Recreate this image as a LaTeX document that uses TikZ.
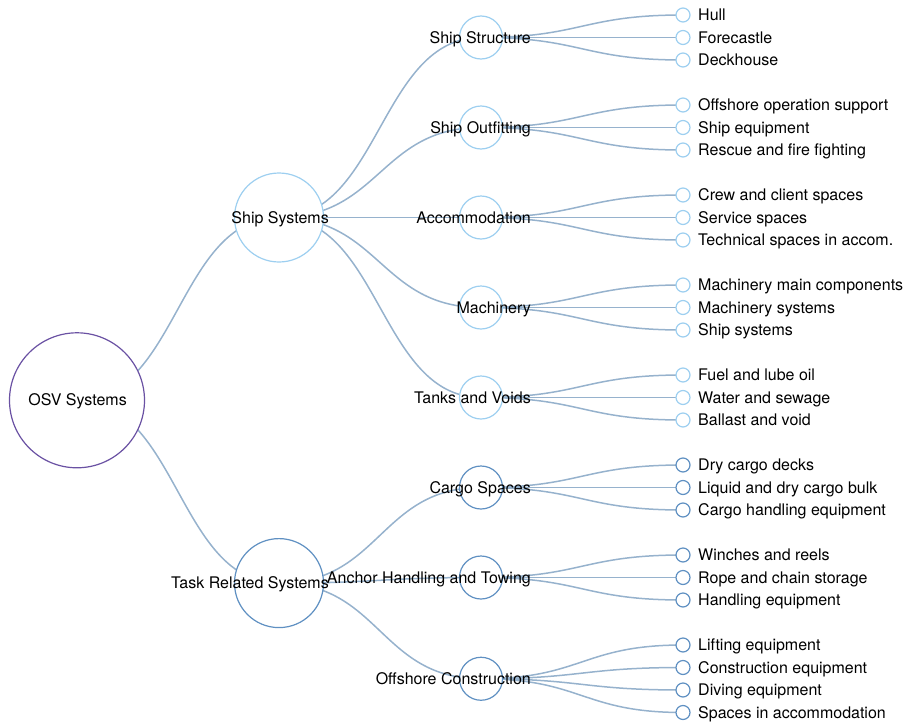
\documentclass[tikz,border=0pt]{standalone}
\usepackage{fontspec}
\setmainfont{TeX Gyre Heros}
\usepackage{xcolor}
\usepackage{tikz}
\usetikzlibrary{calc, positioning, backgrounds}
\definecolor{rootcol}{HTML}{6A51A3}
\definecolor{lightcol}{HTML}{9DCFF0}
\definecolor{darkcol}{HTML}{5F90C2}
\definecolor{linkcol}{HTML}{96B2CD}

\begin{document}
\begin{tikzpicture}[x=1pt, y=-1pt, font=\fontsize{16}{19}\selectfont]
    \tikzset{
        hub/.style={circle, draw, fill=white, line width=1.2pt, inner sep=0pt},
        rootnode/.style={hub, draw=rootcol, minimum size=135pt},
        lvone/.style={hub, minimum size=89pt},
        lvtwo/.style={hub, minimum size=43pt},
        leaf/.style={hub, minimum size=14pt},
        ship/.style={draw=lightcol},
        task/.style={draw=darkcol},
        nodetext/.style={inner sep=0pt, anchor=base east},
        leaftext/.style={inner sep=0pt, anchor=base west},
        link/.style={
            draw=linkcol, line width=1.5pt,
            to path={.. controls ($(\tikztostart)!0.5!(\tikztostart -| \tikztotarget)$)
                and ($(\tikztotarget)!0.5!(\tikztotarget -| \tikztostart)$) .. (\tikztotarget)}
        }
    }

    \useasboundingbox (0,0) rectangle (905,723);

    \node[rootnode] (osv) at (77,400.3) {};
    \node[nodetext] (osv-t) at ([xshift=50pt, yshift=-5.6pt]osv.center) {OSV Systems};

    \node[lvone, ship] (shipsys) at (279,217.5) {};
    \node[nodetext] (shipsys-t) at ([xshift=50pt, yshift=-5.6pt]shipsys.center) {Ship Systems};
    \node[lvone, task] (tasksys) at (279,583.1) {};
    \node[nodetext] (tasksys-t) at ([xshift=50pt, yshift=-5.6pt]tasksys.center) {Task Related Systems};

    \node[lvtwo, ship] (struct) at (481,37.5) {};
    \node[lvtwo, ship] (outfit) at (481,127.5) {};
    \node[lvtwo, ship] (accom) at (481,217.5) {};
    \node[lvtwo, ship] (mach) at (481,307.5) {};
    \node[lvtwo, ship] (tanks) at (481,397.5) {};
    \node[lvtwo, task] (cargo) at (481,487.5) {};
    \node[lvtwo, task] (anchor) at (481,577.5) {};
    \node[lvtwo, task] (offcon) at (481,678.75) {};

    \node[nodetext] (struct-t) at ([xshift=50pt, yshift=-5.6pt]struct.center) {Ship Structure};
    \node[nodetext] (outfit-t) at ([xshift=50pt, yshift=-5.6pt]outfit.center) {Ship Outfitting};
    \node[nodetext] (accom-t) at ([xshift=50pt, yshift=-5.6pt]accom.center) {Accommodation};
    \node[nodetext] (mach-t) at ([xshift=50pt, yshift=-5.6pt]mach.center) {Machinery};
    \node[nodetext] (tanks-t) at ([xshift=50pt, yshift=-5.6pt]tanks.center) {Tanks and Voids};
    \node[nodetext] (cargo-t) at ([xshift=50pt, yshift=-5.6pt]cargo.center) {Cargo Spaces};
    \node[nodetext] (anchor-t) at ([xshift=50pt, yshift=-5.6pt]anchor.center) {Anchor Handling and Towing};
    \node[nodetext] (offcon-t) at ([xshift=50pt, yshift=-5.6pt]offcon.center) {Offshore Construction};

    \node[leaf, ship] (hull) at (683,15) {};
    \node[leaf, ship] (forecastle) at (683,37.5) {};
    \node[leaf, ship] (deckhouse) at (683,60) {};
    \node[leaf, ship] (offsup) at (683,105) {};
    \node[leaf, ship] (shipeq) at (683,127.5) {};
    \node[leaf, ship] (rescue) at (683,150) {};
    \node[leaf, ship] (crew) at (683,195) {};
    \node[leaf, ship] (service) at (683,217.5) {};
    \node[leaf, ship] (techsp) at (683,240) {};
    \node[leaf, ship] (machmain) at (683,285) {};
    \node[leaf, ship] (machsys) at (683,307.5) {};
    \node[leaf, ship] (shipsyst) at (683,330) {};
    \node[leaf, ship] (fuel) at (683,375) {};
    \node[leaf, ship] (water) at (683,397.5) {};
    \node[leaf, ship] (ballast) at (683,420) {};
    \node[leaf, task] (drycargo) at (683,465) {};
    \node[leaf, task] (liqcargo) at (683,487.5) {};
    \node[leaf, task] (cargohand) at (683,510) {};
    \node[leaf, task] (winches) at (683,555) {};
    \node[leaf, task] (rope) at (683,577.5) {};
    \node[leaf, task] (handeq) at (683,600) {};
    \node[leaf, task] (lifting) at (683,645) {};
    \node[leaf, task] (construct) at (683,667.5) {};
    \node[leaf, task] (diving) at (683,690) {};
    \node[leaf, task] (spaces) at (683,712.5) {};

    \node[leaftext] (hull-t) at ([xshift=15pt, yshift=-5.6pt]hull.center) {Hull};
    \node[leaftext] (forecastle-t) at ([xshift=15pt, yshift=-5.6pt]forecastle.center) {Forecastle};
    \node[leaftext] (deckhouse-t) at ([xshift=15pt, yshift=-5.6pt]deckhouse.center) {Deckhouse};
    \node[leaftext] (offsup-t) at ([xshift=15pt, yshift=-5.6pt]offsup.center) {Offshore operation support};
    \node[leaftext] (shipeq-t) at ([xshift=15pt, yshift=-5.6pt]shipeq.center) {Ship equipment};
    \node[leaftext] (rescue-t) at ([xshift=15pt, yshift=-5.6pt]rescue.center) {Rescue and fire fighting};
    \node[leaftext] (crew-t) at ([xshift=15pt, yshift=-5.6pt]crew.center) {Crew and client spaces};
    \node[leaftext] (service-t) at ([xshift=15pt, yshift=-5.6pt]service.center) {Service spaces};
    \node[leaftext] (techsp-t) at ([xshift=15pt, yshift=-5.6pt]techsp.center) {Technical spaces in accom.};
    \node[leaftext] (machmain-t) at ([xshift=15pt, yshift=-5.6pt]machmain.center) {Machinery main components};
    \node[leaftext] (machsys-t) at ([xshift=15pt, yshift=-5.6pt]machsys.center) {Machinery systems};
    \node[leaftext] (shipsyst-t) at ([xshift=15pt, yshift=-5.6pt]shipsyst.center) {Ship systems};
    \node[leaftext] (fuel-t) at ([xshift=15pt, yshift=-5.6pt]fuel.center) {Fuel and lube oil};
    \node[leaftext] (water-t) at ([xshift=15pt, yshift=-5.6pt]water.center) {Water and sewage};
    \node[leaftext] (ballast-t) at ([xshift=15pt, yshift=-5.6pt]ballast.center) {Ballast and void};
    \node[leaftext] (drycargo-t) at ([xshift=15pt, yshift=-5.6pt]drycargo.center) {Dry cargo decks};
    \node[leaftext] (liqcargo-t) at ([xshift=15pt, yshift=-5.6pt]liqcargo.center) {Liquid and dry cargo bulk};
    \node[leaftext] (cargohand-t) at ([xshift=15pt, yshift=-5.6pt]cargohand.center) {Cargo handling equipment};
    \node[leaftext] (winches-t) at ([xshift=15pt, yshift=-5.6pt]winches.center) {Winches and reels};
    \node[leaftext] (rope-t) at ([xshift=15pt, yshift=-5.6pt]rope.center) {Rope and chain storage};
    \node[leaftext] (handeq-t) at ([xshift=15pt, yshift=-5.6pt]handeq.center) {Handling equipment};
    \node[leaftext] (lifting-t) at ([xshift=15pt, yshift=-5.6pt]lifting.center) {Lifting equipment};
    \node[leaftext] (construct-t) at ([xshift=15pt, yshift=-5.6pt]construct.center) {Construction equipment};
    \node[leaftext] (diving-t) at ([xshift=15pt, yshift=-5.6pt]diving.center) {Diving equipment};
    \node[leaftext] (spaces-t) at ([xshift=15pt, yshift=-5.6pt]spaces.center) {Spaces in accommodation};

    \begin{scope}[on background layer]
        \draw[link] (osv.center) to (shipsys.center);
        \draw[link] (osv.center) to (tasksys.center);

        \draw[link] (shipsys.center) to (struct.center);
        \draw[link] (shipsys.center) to (outfit.center);
        \draw[link] (shipsys.center) to (accom.center);
        \draw[link] (shipsys.center) to (mach.center);
        \draw[link] (shipsys.center) to (tanks.center);
        \draw[link] (tasksys.center) to (cargo.center);
        \draw[link] (tasksys.center) to (anchor.center);
        \draw[link] (tasksys.center) to (offcon.center);

        \draw[link] (struct.center) to (hull.center);
        \draw[link] (struct.center) to (forecastle.center);
        \draw[link] (struct.center) to (deckhouse.center);
        \draw[link] (outfit.center) to (offsup.center);
        \draw[link] (outfit.center) to (shipeq.center);
        \draw[link] (outfit.center) to (rescue.center);
        \draw[link] (accom.center) to (crew.center);
        \draw[link] (accom.center) to (service.center);
        \draw[link] (accom.center) to (techsp.center);
        \draw[link] (mach.center) to (machmain.center);
        \draw[link] (mach.center) to (machsys.center);
        \draw[link] (mach.center) to (shipsyst.center);
        \draw[link] (tanks.center) to (fuel.center);
        \draw[link] (tanks.center) to (water.center);
        \draw[link] (tanks.center) to (ballast.center);
        \draw[link] (cargo.center) to (drycargo.center);
        \draw[link] (cargo.center) to (liqcargo.center);
        \draw[link] (cargo.center) to (cargohand.center);
        \draw[link] (anchor.center) to (winches.center);
        \draw[link] (anchor.center) to (rope.center);
        \draw[link] (anchor.center) to (handeq.center);
        \draw[link] (offcon.center) to (lifting.center);
        \draw[link] (offcon.center) to (construct.center);
        \draw[link] (offcon.center) to (diving.center);
        \draw[link] (offcon.center) to (spaces.center);
    \end{scope}

\end{tikzpicture}
\end{document}
